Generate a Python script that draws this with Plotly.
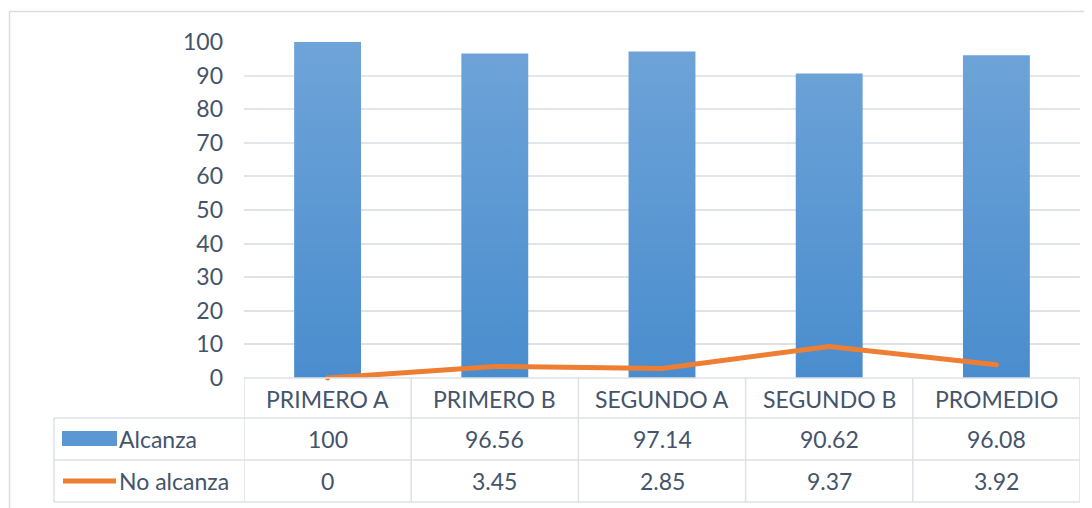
import base64
import plotly.graph_objects as go

categories = ["PRIMERO A", "PRIMERO B", "SEGUNDO A", "SEGUNDO B", "PROMEDIO"]
alcanza = [100, 96.56, 97.14, 90.62, 96.08]
no_alcanza = [0, 3.45, 2.85, 9.37, 3.92]
alcanza_labels = ["100", "96.56", "97.14", "90.62", "96.08"]
no_alcanza_labels = ["0", "3.45", "2.85", "9.37", "3.92"]
y_ticks = [0, 10, 20, 30, 40, 50, 60, 70, 80, 90, 100]

OFF = 8  # default page body margin
W, H = 1092 - OFF, 508 - OFF
L, R, T, B = 244, 1080, 42, 378  # plot area in screen pixels
TXT = "#44546A"
GRID = "#DDE1E6"
BAR = "#4A8DCE"
LINE = "#ED7D31"
FONT = "Lato, Calibri, Carlito, sans-serif"

def px(x):
    return (x - L) / (R - L)

def py(y):
    return (B - y) / (B - T)

fig = go.Figure()
fig.add_trace(go.Bar(x=list(range(len(categories))), y=alcanza, name="Alcanza",
                     marker=dict(color=BAR, line=dict(width=0)), width=0.4,
                     showlegend=False, hoverinfo="y"))
fig.add_trace(go.Scatter(x=list(range(len(categories))), y=no_alcanza, name="No alcanza",
                         mode="lines+markers", line=dict(color=LINE, width=5),
                         marker=dict(color=LINE, size=5, line=dict(width=0)),
                         cliponaxis=False, showlegend=False, hoverinfo="y"))

# soft vertical light gradient over the plot area (bars lighter at the top)
svg = ('<svg xmlns="http://www.w3.org/2000/svg" width="10" height="100" preserveAspectRatio="none">'
       '<defs><linearGradient id="g" x1="0" y1="0" x2="0" y2="1">'
       '<stop offset="0" stop-color="white" stop-opacity="0.2"/>'
       '<stop offset="1" stop-color="white" stop-opacity="0"/>'
       '</linearGradient></defs><rect width="10" height="100" fill="url(#g)"/></svg>')
img_src = "data:image/svg+xml;base64," + base64.b64encode(svg.encode()).decode()
fig.add_layout_image(dict(source=img_src, xref="paper", yref="paper", x=0, y=1,
                          sizex=1, sizey=1, sizing="stretch", xanchor="left", yanchor="top",
                          layer="above"))

shapes = []
annotations = []
# chart border
shapes.append(dict(type="rect", xref="paper", yref="paper",
                   x0=px(9.5), x1=px(1110), y0=py(530), y1=py(11.5),
                   line=dict(color="#D9DDE3", width=1.5), layer="below"))

row_lines = [378, 418, 460, 502]
col_edges = [-0.5, 0.5, 1.5, 2.5, 3.5, 4.5]
shapes.append(dict(type="line", xref="x", yref="paper", x0=-0.5, x1=4.5,
                   y0=py(row_lines[0]), y1=py(row_lines[0]), line=dict(color=GRID, width=1.5)))
for yl in row_lines[1:]:
    shapes.append(dict(type="line", xref="paper", yref="paper", x0=px(54), x1=1,
                       y0=py(yl), y1=py(yl), line=dict(color=GRID, width=1.5)))
for ce in col_edges:
    shapes.append(dict(type="line", xref="x", yref="paper", x0=ce, x1=ce,
                       y0=py(row_lines[0]), y1=py(row_lines[-1]), line=dict(color=GRID, width=1.5)))
shapes.append(dict(type="line", xref="paper", yref="paper", x0=px(54), x1=px(54),
                   y0=py(row_lines[1]), y1=py(row_lines[-1]), line=dict(color=GRID, width=1.5)))

# legend keys
shapes.append(dict(type="rect", xref="paper", yref="paper", x0=px(62), x1=px(117),
                   y0=py(446), y1=py(431), fillcolor="#5A97D3", line=dict(width=0)))
shapes.append(dict(type="line", xref="paper", yref="paper", x0=px(63), x1=px(116),
                   y0=py(481), y1=py(481), line=dict(color=LINE, width=5)))

fs = 23
tf = dict(size=fs, color=TXT, family=FONT)
for i, c in enumerate(categories):
    annotations.append(dict(x=i, y=py(399), xref="x", yref="paper", text=c, showarrow=False,
                            font=tf, yanchor="middle"))
    annotations.append(dict(x=i, y=py(439), xref="x", yref="paper", text=alcanza_labels[i],
                            showarrow=False, font=tf, yanchor="middle"))
    annotations.append(dict(x=i, y=py(481), xref="x", yref="paper", text=no_alcanza_labels[i],
                            showarrow=False, font=tf, yanchor="middle"))
annotations.append(dict(x=px(117), y=py(439), xref="paper", yref="paper", text="Alcanza",
                        showarrow=False, xanchor="left", yanchor="middle", font=tf))
annotations.append(dict(x=px(117), y=py(481), xref="paper", yref="paper", text="No alcanza",
                        showarrow=False, xanchor="left", yanchor="middle", font=tf))

fig.update_layout(
    width=W, height=H,
    margin=dict(l=L - OFF, r=W - (R - OFF), t=T - OFF, b=H - (B - OFF)),
    paper_bgcolor="white", plot_bgcolor="white",
    shapes=shapes, annotations=annotations,
    xaxis=dict(range=[-0.5, 4.5], showticklabels=False, showgrid=False, zeroline=False,
               showline=False, ticks=""),
    yaxis=dict(range=[0, 100], tickvals=y_ticks, showgrid=True, gridcolor=GRID, gridwidth=1.5,
               zeroline=False, showline=False, ticks="", ticklabelstandoff=20,
               tickfont=tf),
    bargap=0.6,
)
fig.write_html("out.html")
